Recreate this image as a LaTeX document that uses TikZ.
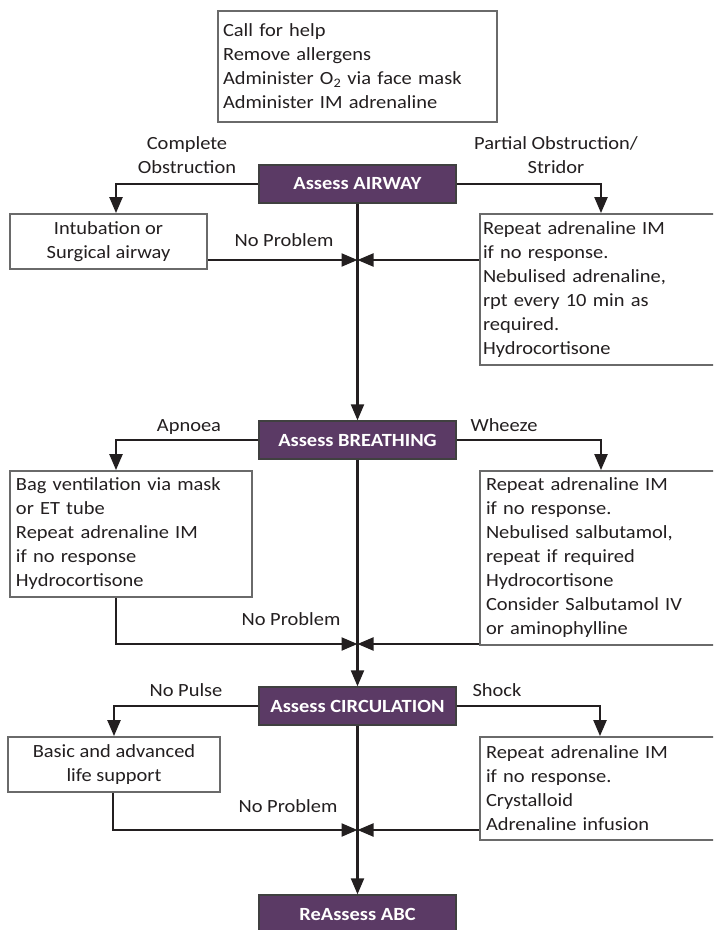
\documentclass[tikz,border=0pt]{standalone}
\usepackage{fontspec}
\setmainfont{Carlito}[FakeStretch=1.1]
\usetikzlibrary{arrows.meta}

\definecolor{assessviolet}{HTML}{5B3A65}
\definecolor{inkdark}{HTML}{231F20}
\definecolor{framegray}{HTML}{6A6A6A}
\newcommand{\chartfont}{\fontsize{18.6}{24}\selectfont}

\tikzset{
	assessbox/.style={draw=black!75, line width=1.4pt, fill=assessviolet, text=white,
		font=\chartfont\bfseries, minimum width=197pt, minimum height=38pt, inner sep=0pt},
	actbox/.style={draw=framegray, line width=1.8pt, fill=white, inner sep=0pt},
	leftbox/.style={actbox, align=left, inner xsep=#1},
	branchlabel/.style={align=center, inner sep=0pt, text height=13pt, text depth=4pt},
}

\begin{document}
\begin{tikzpicture}[x=1pt, y=-1pt, >={Triangle[length=16pt, width=13pt]}, font=\chartfont, text=inkdark, line join=miter]
	\path[use as bounding box, fill=white] (0,0) rectangle (713,930);
	\clip (0,0) rectangle (713,930);

	% first actions
	\node[leftbox=5pt, text width=269pt, minimum height=111pt] (actions) at (357.5,66.5)
		{Call for help\\Remove allergens\\Administer O\textsubscript{2} via face mask\\Administer IM adrenaline};

	% (A) airway
	\node[assessbox] (airway) at (357.5,184) {Assess AIRWAY};
	\node[branchlabel, text height=] (complete) at (187,157.5) {Complete\\Obstruction};
	\node[branchlabel, text height=] (partial) at (556,157.5) {Partial Obstruction/\\Stridor};
	\node[actbox, align=center, minimum width=197pt, minimum height=55pt] (intub) at (108.5,241.5)
		{Intubation or\\Surgical airway};
	\node[leftbox=3pt, text width=274pt, minimum height=151pt] (partbox) at (620,289.5)
		{Repeat adrenaline IM\\if no response.\\Nebulised adrenaline,\\rpt every 10 min as\\required.\\Hydrocortisone};
	\node[branchlabel] (noprobA) at (284,242) {No Problem};
	\coordinate (joinA) at (357.5,260);

	% (B) breathing
	\node[assessbox] (breathing) at (357.5,440) {Assess BREATHING};
	\node[branchlabel] (apnoea) at (189,427) {Apnoea};
	\node[branchlabel] (wheeze) at (504,427) {Wheeze};
	\node[leftbox=6pt, text width=230pt, minimum height=126pt] (bag) at (131,534)
		{Bag ventilation via mask\\or ET tube\\Repeat adrenaline IM\\if no response\\Hydrocortisone};
	\node[leftbox=6pt, text width=268pt, minimum height=174pt] (wheezebox) at (620,558)
		{Repeat adrenaline IM\\if no response.\\Nebulised salbutamol,\\repeat if required\\Hydrocortisone\\Consider Salbutamol IV\\or aminophylline};
	\node[branchlabel] (noprobB) at (291,621) {No Problem};
	\coordinate (joinB) at (357.5,644);

	% (C) circulation
	\node[assessbox] (circ) at (357.5,706) {Assess CIRCULATION};
	\node[branchlabel] (nopulse) at (186,692) {No Pulse};
	\node[branchlabel] (shock) at (497,692) {Shock};
	\node[actbox, align=center, minimum width=212pt, minimum height=55pt] (basic) at (114,764.5)
		{Basic and advanced\\life support};
	\node[leftbox=6pt, text width=268pt, minimum height=103pt] (shockbox) at (620,788.5)
		{Repeat adrenaline IM\\if no response.\\Crystalloid\\Adrenaline infusion};
	\node[branchlabel] (noprobC) at (288,808) {No Problem};
	\coordinate (joinC) at (357.5,830);

	\node[assessbox] (reassess) at (357.5,914) {ReAssess ABC};

	\begin{scope}[draw=inkdark, line width=2.2pt]
		\draw[->] (airway.west) -| ([xshift=7.5pt]intub.north);
		\draw[->] (airway.east) -| ([xshift=-19pt]partbox.north);
		\draw[->] (joinA -| intub.east) -- (joinA);
		\draw[->] (joinA -| partbox.west) -- (joinA);
		\draw[->] (airway.south) -- (breathing.north);

		\draw[->] (breathing.west) -| ([xshift=-15pt]bag.north);
		\draw[->] (breathing.east) -| ([xshift=-19pt]wheezebox.north);
		\draw[->] ([xshift=-15pt]bag.south) |- (joinB);
		\draw[->] (joinB -| wheezebox.west) -- (joinB);
		\draw[->] (breathing.south) -- (circ.north);

		\draw[->] (circ.west) -| (basic.north);
		\draw[->] (circ.east) -| ([xshift=-20pt]shockbox.north);
		\draw[->] ([xshift=-1pt]basic.south) |- (joinC);
		\draw[->] (joinC -| shockbox.west) -- (joinC);
		\draw[->] (circ.south) -- (reassess.north);
	\end{scope}
\end{tikzpicture}
\end{document}
